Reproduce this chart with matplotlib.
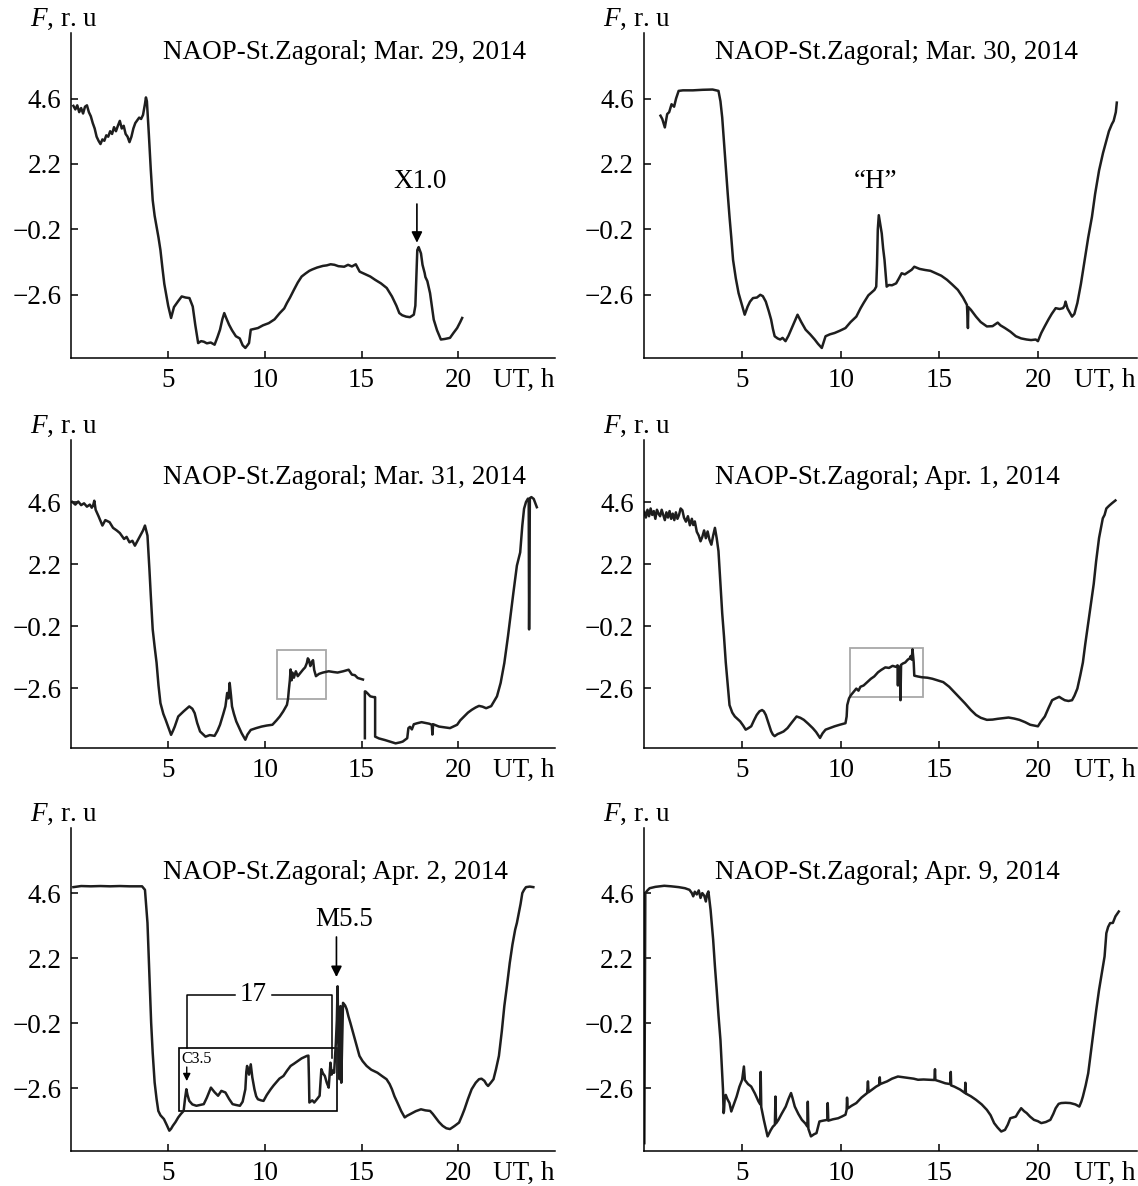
import numpy as np
import matplotlib
matplotlib.use("Agg")
import matplotlib.pyplot as plt
from matplotlib.patches import Rectangle

plt.rcParams['font.family'] = ['Liberation Serif', 'DejaVu Serif']
plt.rcParams['mathtext.fontset'] = 'custom'
plt.rcParams['mathtext.it'] = 'Liberation Serif:italic'
plt.rcParams['mathtext.rm'] = 'Liberation Serif'

# ---------------- data ----------------
ytick_vals = [4.6, 2.2, -0.2, -2.6]
ytick_labels = ['4.6', '2.2', '\u22120.2', '\u22122.6']
xtick_vals = [5, 10, 15, 20]

titles = ['NAOP-St.Zagoral; Mar. 29, 2014', 'NAOP-St.Zagoral; Mar. 30, 2014',
          'NAOP-St.Zagoral; Mar. 31, 2014', 'NAOP-St.Zagoral; Apr. 1, 2014',
          'NAOP-St.Zagoral; Apr. 2, 2014', 'NAOP-St.Zagoral; Apr. 9, 2014']

# Mar. 29
mar29_t = [0.1, 0.2, 0.3, 0.4, 0.5, 0.6, 0.7, 0.8, 0.9, 1.0, 1.1, 1.2, 1.3, 1.4, 1.5, 1.6, 1.7, 1.8,
           1.9, 2.0, 2.1, 2.2, 2.3, 2.4, 2.5, 2.6, 2.7, 2.8, 2.9, 3.0, 3.1, 3.2, 3.3, 3.4, 3.5, 3.6,
           3.7, 3.8, 3.85, 3.9, 4.0, 4.1, 4.2, 4.3, 4.4, 4.5, 4.6, 4.7, 4.8, 4.9, 5.0, 5.15, 5.3,
           5.5, 5.7, 5.9, 6.1, 6.27, 6.4, 6.55, 6.7, 6.84, 7.0, 7.2, 7.4, 7.55, 7.68, 7.8, 7.9, 8.0,
           8.15, 8.3, 8.5, 8.7, 8.85, 8.99, 9.1, 9.18, 9.27, 9.45, 9.64, 9.9, 10.2, 10.5, 10.77,
           11.0, 11.14, 11.3, 11.5, 11.7, 11.9, 12.1, 12.3, 12.45, 12.7, 13.0, 13.2, 13.4, 13.6,
           13.8, 14.1, 14.3, 14.5, 14.7, 14.9, 15.2, 15.45, 15.7, 16.0, 16.3, 16.57, 16.8, 16.95,
           17.1, 17.3, 17.5, 17.7, 17.78, 17.83, 17.88, 17.95, 18.07, 18.15, 18.26, 18.3, 18.4,
           18.54, 18.65, 18.73, 18.9, 19.1, 19.3, 19.57, 19.75, 19.94, 20.1, 20.2]
mar29_f = [4.33, 4.2, 4.35, 4.1, 4.25, 4.05, 4.3, 4.35, 4.1, 3.95, 3.7, 3.5, 3.2, 3.05, 2.93, 3.1,
           3.05, 3.25, 3.2, 3.4, 3.3, 3.55, 3.4, 3.6, 3.78, 3.5, 3.6, 3.3, 3.2, 3.0, 3.2, 3.5, 3.7,
           3.8, 3.9, 3.85, 4.0, 4.4, 4.64, 4.5, 3.3, 2.0, 0.87, 0.3, -0.1, -0.5, -0.96, -1.6, -2.2,
           -2.6, -3.0, -3.45, -3.05, -2.85, -2.66, -2.7, -2.72, -3.03, -3.7, -4.37, -4.3, -4.32,
           -4.38, -4.35, -4.43, -4.15, -3.88, -3.5, -3.27, -3.45, -3.7, -3.9, -4.12, -4.2, -4.45,
           -4.55, -4.45, -4.37, -3.88, -3.85, -3.82, -3.72, -3.64, -3.5, -3.27, -3.1, -2.9, -2.7,
           -2.42, -2.15, -1.93, -1.82, -1.72, -1.67, -1.6, -1.54, -1.52, -1.48, -1.5, -1.55, -1.57,
           -1.5, -1.56, -1.48, -1.75, -1.85, -1.93, -2.05, -2.18, -2.35, -2.66, -3.0, -3.27, -3.35,
           -3.4, -3.42, -3.33, -3.0, -2.0, -0.96, -0.85, -1.08, -1.5, -1.8, -1.95, -2.1, -2.54,
           -3.1, -3.51, -3.9, -4.24, -4.22, -4.18, -4.0, -3.82, -3.6, -3.45]

# Mar. 30
mar30_t = [0.86, 0.95, 1.08, 1.2, 1.3, 1.42, 1.55, 1.65, 1.78, 2.0, 2.5, 3.0, 3.5, 3.8, 3.9, 3.99,
           4.08, 4.17, 4.27, 4.36, 4.45, 4.54, 4.68, 4.82, 5.0, 5.13, 5.28, 5.4, 5.55, 5.75, 5.92,
           6.05, 6.2, 6.35, 6.47, 6.56, 6.65, 6.8, 6.93, 7.05, 7.2, 7.35, 7.48, 7.65, 7.81, 8.0,
           8.22, 8.45, 8.68, 8.85, 9.04, 9.15, 9.23, 9.45, 9.69, 9.95, 10.24, 10.5, 10.79, 11.0,
           11.16, 11.4, 11.71, 11.8, 11.84, 11.88, 11.93, 11.98, 12.08, 12.15, 12.22, 12.3, 12.33,
           12.44, 12.6, 12.81, 12.95, 13.09, 13.25, 13.46, 13.6, 13.73, 14.0, 14.28, 14.55, 14.83,
           15.1, 15.39, 15.65, 15.94, 16.2, 16.4, 16.43, 16.45, 16.47, 16.6, 16.86, 17.1, 17.41,
           17.7, 17.96, 18.1, 18.33, 18.6, 18.88, 19.15, 19.43, 19.65, 19.89, 20.0, 20.17, 20.35,
           20.53, 20.7, 20.9, 21.1, 21.27, 21.35, 21.4, 21.5, 21.73, 21.85, 22.0, 22.18, 22.37,
           22.55, 22.74, 22.9, 23.1, 23.3, 23.47, 23.6, 23.75, 23.84, 23.95, 24.0]
mar30_f = [3.97, 3.85, 3.54, 4.03, 4.1, 4.39, 4.3, 4.6, 4.88, 4.9, 4.9, 4.92, 4.93, 4.88, 4.5, 3.9,
           3.0, 2.08, 1.1, 0.26, -0.5, -1.32, -2.0, -2.54, -3.0, -3.33, -3.03, -2.85, -2.72, -2.7,
           -2.6, -2.65, -2.85, -3.2, -3.51, -3.85, -4.12, -4.2, -4.24, -4.18, -4.3, -4.1, -3.88,
           -3.6, -3.33, -3.6, -3.88, -4.05, -4.24, -4.4, -4.55, -4.3, -4.12, -4.05, -4.0, -3.92,
           -3.82, -3.6, -3.4, -3.1, -2.9, -2.62, -2.42, -2.3, -1.5, -0.2, 0.32, 0.1, -0.35, -0.9,
           -1.32, -2.05, -2.3, -2.24, -2.25, -2.18, -2.0, -1.81, -1.85, -1.75, -1.68, -1.57, -1.65,
           -1.69, -1.72, -1.81, -1.9, -2.05, -2.22, -2.42, -2.7, -2.97, -3.4, -3.82, -3.05, -3.15,
           -3.4, -3.6, -3.76, -3.75, -3.62, -3.72, -3.82, -3.95, -4.12, -4.2, -4.24, -4.26, -4.24,
           -4.3, -4.0, -3.75, -3.51, -3.3, -3.09, -3.12, -3.09, -3.0, -2.85, -3.1, -3.4, -3.3, -2.9,
           -2.2, -1.32, -0.5, 0.26, 1.1, 1.96, 2.6, 3.05, 3.4, 3.66, 3.78, 4.1, 4.45]

# Mar. 31 (nan = gap in the record)
mar31_t = [0.05, 0.2, 0.35, 0.5, 0.65, 0.8, 0.95, 1.05, 1.12, 1.18, 1.25, 1.4, 1.6, 1.75, 1.97,
           2.15, 2.34, 2.5, 2.72, 2.85, 3.0, 3.15, 3.28, 3.45, 3.56, 3.7, 3.8, 3.93, 4.03, 4.1, 4.2,
           4.3, 4.4, 4.5, 4.6, 4.75, 4.87, 5.0, 5.15, 5.25, 5.34, 5.52, 5.8, 6.09, 6.25, 6.37, 6.5,
           6.65, 6.93, 7.15, 7.4, 7.55, 7.68, 7.85, 7.96, 8.05, 8.12, 8.18, 8.25, 8.3, 8.4, 8.52,
           8.65, 8.8, 8.99, 9.1, 9.27, 9.55, 9.83, 10.1, 10.39, 10.6, 10.77, 10.95, 11.14, 11.2,
           11.24, 11.29, 11.33, 11.38, 11.42, 11.5, 11.6, 11.7, 11.85, 11.98, 12.08, 12.17, 12.22,
           12.27, 12.35, 12.42, 12.49, 12.55, 12.64, 12.8, 13.0, 13.3, 13.55, 13.76, 14.05, 14.33,
           14.5, 14.65, 14.8, 15.07, 15.12, 15.17, 15.17, 15.2, 15.3, 15.45, 15.62, 15.7, 15.7,
           15.9, 16.2, 16.5, 16.76, 17.0, 17.13, 17.36, 17.42, 17.5, 17.6, 17.7, 17.88, 18.1, 18.3,
           18.5, 18.63, 18.66, 18.7, 19.0, 19.3, 19.57, 19.94, 20.1, 20.3, 20.5, 20.7, 20.9, 21.07,
           21.25, 21.44, 21.7, 22.0, 22.19, 22.38, 22.57, 22.7, 22.85, 23.03, 23.2, 23.31, 23.4,
           23.5, 23.6, 23.64, 23.66, 23.7, 23.78, 23.9, 24.06]
mar31_f = [4.6, 4.5, 4.62, 4.48, 4.55, 4.42, 4.5, 4.38, 4.47, 4.65, 4.3, 4.05, 3.69, 3.9, 3.82,
           3.6, 3.5, 3.4, 3.17, 3.25, 3.04, 3.1, 2.91, 3.15, 3.3, 3.5, 3.69, 3.3, 2.0, 1.0, -0.33,
           -1.0, -1.62, -2.5, -3.18, -3.6, -3.83, -4.1, -4.41, -4.25, -4.09, -3.7, -3.5, -3.31,
           -3.4, -3.57, -3.95, -4.28, -4.48, -4.42, -4.45, -4.25, -4.02, -3.6, -3.31, -2.79, -3.0,
           -2.4, -2.9, -3.31, -3.6, -3.89, -4.1, -4.35, -4.6, -4.4, -4.22, -4.15, -4.09, -4.05,
           -4.02, -3.85, -3.7, -3.5, -3.25, -3.0, -2.66, -2.3, -1.88, -2.3, -2.0, -2.2, -1.95,
           -2.14, -2.0, -1.88, -1.8, -1.63, -1.45, -1.5, -1.75, -1.6, -1.52, -1.9, -2.14, -2.05,
           -2.0, -1.95, -1.98, -2.0, -1.95, -1.89, -2.08, -2.1, -2.21, -2.27, np.nan, -4.54, -2.73,
           -2.73, -2.8, -2.92, -2.95, -2.95, -4.48, -4.55, -4.61, -4.68, -4.74, -4.7, -4.67, -4.54,
           -4.15, -4.1, -4.2, -4.0, -3.96, -3.92, -3.95, -3.98, -4.02, -4.4, -4.0, -4.09, -4.12,
           -4.15, -4.02, -3.85, -3.7, -3.55, -3.44, -3.35, -3.29, -3.32, -3.38, -3.3, -2.92, -2.4,
           -1.63, -0.59, 0.2, 1.1, 2.14, 2.65, 3.69, 4.34, 4.6, 4.73, 4.7, -0.33, 4.75, 4.79, 4.72,
           4.4]

# Apr. 1
apr1_t = [0.04, 0.12, 0.2, 0.28, 0.36, 0.44, 0.52, 0.6, 0.68, 0.76, 0.84, 0.92, 1.0, 1.08, 1.16,
          1.24, 1.32, 1.4, 1.48, 1.56, 1.64, 1.72, 1.8, 1.88, 1.97, 2.05, 2.15, 2.25, 2.35, 2.45,
          2.52, 2.6, 2.7, 2.8, 2.89, 2.98, 3.07, 3.16, 3.25, 3.34, 3.44, 3.53, 3.62, 3.71, 3.8, 3.9,
          3.99, 4.08, 4.17, 4.27, 4.36, 4.5, 4.63, 4.77, 4.9, 5.05, 5.18, 5.32, 5.46, 5.6, 5.74,
          5.88, 6.01, 6.1, 6.2, 6.33, 6.47, 6.56, 6.65, 6.8, 6.93, 7.1, 7.3, 7.5, 7.76, 7.95, 8.13,
          8.35, 8.58, 8.75, 8.95, 9.08, 9.23, 9.45, 9.69, 9.95, 10.24, 10.3, 10.33, 10.42, 10.51,
          10.65, 10.79, 10.9, 11.0, 11.16, 11.3, 11.53, 11.7, 11.89, 12.05, 12.26, 12.45, 12.63,
          12.8, 12.88, 12.9, 12.92, 13.0, 13.03, 13.06, 13.15, 13.27, 13.4, 13.5, 13.55, 13.6,
          13.64, 13.7, 13.73, 13.9, 14.1, 14.4, 14.65, 14.9, 15.2, 15.5, 15.75, 16.0, 16.3, 16.6,
          16.86, 17.1, 17.41, 17.7, 17.96, 18.2, 18.51, 18.8, 19.06, 19.35, 19.61, 19.8, 20.0,
          20.15, 20.35, 20.55, 20.72, 20.9, 21.08, 21.2, 21.36, 21.55, 21.73, 21.85, 22.0, 22.15,
          22.28, 22.4, 22.55, 22.7, 22.83, 22.95, 23.1, 23.2, 23.29, 23.38, 23.47, 23.6, 23.75,
          23.93]
apr1_f = [4.22, 4.0, 4.3, 4.05, 4.35, 4.1, 4.25, 3.95, 4.3, 4.15, 4.05, 4.3, 4.1, 3.9, 4.2, 4.0,
          4.25, 3.95, 4.15, 3.9, 4.2, 3.95, 4.1, 4.35, 4.28, 4.0, 3.84, 4.05, 3.7, 3.95, 3.71,
          3.85, 3.45, 3.3, 3.08, 3.25, 3.5, 3.2, 3.46, 3.15, 2.95, 3.3, 3.6, 3.2, 2.7, 1.43, 0.29,
          -0.6, -1.61, -2.5, -3.26, -3.55, -3.7, -3.8, -3.89, -4.05, -4.21, -4.15, -4.08, -3.85,
          -3.64, -3.5, -3.45, -3.5, -3.64, -3.95, -4.27, -4.4, -4.46, -4.38, -4.34, -4.28, -4.15,
          -3.95, -3.7, -3.75, -3.83, -3.98, -4.15, -4.3, -4.53, -4.35, -4.21, -4.15, -4.08, -4.02,
          -3.96, -3.7, -3.26, -3.0, -2.88, -2.75, -2.62, -2.7, -2.55, -2.5, -2.4, -2.24, -2.15,
          -1.99, -1.9, -1.8, -1.82, -1.74, -1.78, -1.72, -2.5, -1.75, -1.8, -3.07, -1.7, -1.65,
          -1.61, -1.5, -1.45, -1.36, -1.5, -1.1, -1.6, -2.12, -2.15, -2.18, -2.2, -2.24, -2.3,
          -2.37, -2.55, -2.75, -2.95, -3.19, -3.45, -3.64, -3.75, -3.83, -3.82, -3.79, -3.77,
          -3.74, -3.78, -3.83, -3.92, -4.02, -4.05, -4.08, -3.9, -3.7, -3.35, -3.07, -3.0, -2.94,
          -3.0, -3.07, -3.1, -3.07, -2.9, -2.62, -2.1, -1.61, -0.9, -0.09, 0.7, 1.43, 2.3, 3.21,
          3.6, 3.97, 4.1, 4.35, 4.45, 4.55, 4.66]

# Apr. 2
apr2_t = [0.1, 0.5, 1.0, 1.5, 2.0, 2.5, 3.0, 3.5, 3.65, 3.8, 3.93, 4.02, 4.12, 4.2, 4.3, 4.4, 4.49,
          4.6, 4.78, 4.92, 5.06, 5.15, 5.24, 5.38, 5.52, 5.66, 5.8, 5.87, 5.94, 6.0, 6.09, 6.25,
          6.46, 6.65, 6.84, 7.0, 7.21, 7.4, 7.58, 7.75, 7.96, 8.15, 8.33, 8.5, 8.71, 8.85, 8.99,
          9.04, 9.08, 9.18, 9.27, 9.35, 9.46, 9.55, 9.64, 9.8, 9.93, 10.1, 10.3, 10.45, 10.58,
          10.75, 10.96, 11.15, 11.33, 11.5, 11.7, 11.9, 12.17, 12.25, 12.28, 12.3, 12.45, 12.55,
          12.7, 12.83, 12.88, 12.92, 13.0, 13.1, 13.2, 13.3, 13.39, 13.45, 13.52, 13.58, 13.67,
          13.72, 13.76, 13.8, 13.86, 13.91, 13.95, 14.04, 14.15, 14.23, 14.32, 14.42, 14.52, 14.61,
          14.75, 14.89, 15.05, 15.26, 15.5, 15.82, 16.05, 16.29, 16.45, 16.57, 16.7, 16.85, 17.05,
          17.23, 17.35, 17.51, 17.8, 18.07, 18.3, 18.54, 18.68, 18.82, 19.0, 19.19, 19.38, 19.57,
          19.8, 20.04, 20.2, 20.32, 20.5, 20.69, 20.9, 21.07, 21.2, 21.35, 21.45, 21.54, 21.68,
          21.82, 21.95, 22.1, 22.25, 22.38, 22.52, 22.66, 22.8, 22.94, 23.03, 23.13, 23.22, 23.31,
          23.4, 23.5, 23.7, 23.88]
apr2_f = [4.82, 4.86, 4.85, 4.86, 4.85, 4.86, 4.85, 4.85, 4.85, 4.72, 3.5, 1.7, -0.19, -1.3,
          -2.39, -3.0, -3.44, -3.6, -3.74, -3.95, -4.17, -4.1, -3.99, -3.85, -3.68, -3.55, -3.44,
          -3.0, -2.64, -2.85, -3.07, -3.2, -3.25, -3.22, -3.19, -2.95, -2.58, -2.75, -2.88, -2.7,
          -2.76, -3.0, -3.19, -3.22, -3.25, -3.1, -2.64, -2.0, -1.78, -2.1, -1.72, -2.2, -2.64,
          -2.9, -3.01, -3.05, -3.07, -2.85, -2.64, -2.5, -2.39, -2.25, -2.15, -1.95, -1.78, -1.7,
          -1.6, -1.5, -1.41, -1.4, -2.3, -3.13, -3.05, -3.13, -3.0, -2.88, -2.3, -1.9, -2.05,
          -2.15, -2.4, -2.58, -1.66, -2.1, -1.95, -2.03, -0.92, -0.1, 1.16, -1.0, -2.27, 0.43,
          -2.4, 0.55, 0.45, 0.31, 0.05, -0.19, -0.45, -0.68, -1.05, -1.41, -1.6, -1.78, -1.92,
          -2.03, -2.15, -2.27, -2.45, -2.64, -2.9, -3.13, -3.45, -3.68, -3.62, -3.56, -3.45, -3.38,
          -3.42, -3.44, -3.55, -3.68, -3.85, -3.99, -4.08, -4.11, -4.0, -3.87, -3.6, -3.38, -3.0,
          -2.64, -2.4, -2.27, -2.25, -2.33, -2.45, -2.52, -2.4, -2.27, -1.9, -1.41, -0.5, 0.43,
          1.2, 2.02, 2.7, 3.25, 3.5, 3.86, 4.2, 4.6, 4.72, 4.82, 4.84, 4.82]

# Apr. 9
apr9_t = [0.04, 0.09, 0.2, 0.31, 0.6, 1.05, 1.4, 1.78, 2.1, 2.33, 2.45, 2.52, 2.6, 2.7, 2.8, 2.89,
          2.98, 3.08, 3.16, 3.22, 3.29, 3.35, 3.4, 3.53, 3.62, 3.71, 3.8, 3.9, 3.97, 4.03, 4.06,
          4.08, 4.12, 4.17, 4.25, 4.36, 4.45, 4.58, 4.72, 4.86, 5.0, 5.09, 5.14, 5.3, 5.46, 5.65,
          5.83, 5.92, 5.94, 5.97, 6.1, 6.29, 6.45, 6.56, 6.66, 6.69, 6.72, 6.84, 7.0, 7.21, 7.35,
          7.48, 7.55, 7.67, 7.85, 8.03, 8.2, 8.31, 8.33, 8.36, 8.49, 8.65, 8.77, 8.92, 9.1, 9.32,
          9.34, 9.37, 9.6, 9.87, 10.05, 10.24, 10.3, 10.32, 10.35, 10.55, 10.79, 11.05, 11.34,
          11.38, 11.41, 11.6, 11.8, 11.95, 11.98, 12.0, 12.35, 12.6, 12.9, 13.2, 13.46, 13.7,
          13.92, 14.2, 14.47, 14.75, 14.78, 14.8, 15.02, 15.3, 15.55, 15.58, 15.6, 15.75, 16.05,
          16.3, 16.32, 16.35, 16.6, 16.86, 17.15, 17.41, 17.6, 17.78, 17.95, 18.14, 18.33, 18.47,
          18.6, 18.75, 18.88, 19.0, 19.15, 19.3, 19.43, 19.6, 19.8, 20.0, 20.17, 20.4, 20.63,
          20.78, 20.9, 21.05, 21.18, 21.4, 21.64, 21.9, 22.1, 22.2, 22.28, 22.42, 22.55, 22.7,
          22.83, 22.96, 23.1, 23.25, 23.38, 23.47, 23.56, 23.66, 23.8, 23.93, 24.1]
apr9_f = [-4.63, 4.6, 4.7, 4.78, 4.83, 4.87, 4.85, 4.82, 4.78, 4.72, 4.6, 4.48, 4.65, 4.55, 4.7,
          4.42, 4.6, 4.5, 4.29, 4.55, 4.66, 4.3, 3.98, 2.88, 1.9, 1.03, 0.1, -0.82, -1.8, -2.66,
          -3.52, -3.45, -2.9, -2.85, -3.0, -3.15, -3.46, -3.2, -2.91, -2.55, -2.29, -1.8, -2.3,
          -2.45, -2.54, -2.8, -3.09, -3.2, -2.0, -3.3, -3.77, -4.38, -4.15, -4.02, -3.95, -2.91,
          -3.9, -3.77, -3.55, -3.28, -3.0, -2.78, -2.95, -3.28, -3.55, -3.77, -3.9, -4.02, -3.1,
          -4.1, -4.38, -4.3, -4.26, -3.83, -3.8, -3.77, -3.15, -3.8, -3.75, -3.71, -3.65, -3.58,
          -3.4, -2.95, -3.35, -3.25, -3.15, -2.95, -2.78, -2.35, -2.75, -2.65, -2.54, -2.48, -2.2,
          -2.45, -2.35, -2.25, -2.17, -2.2, -2.23, -2.25, -2.29, -2.28, -2.29, -2.3, -1.9, -2.3,
          -2.35, -2.42, -2.45, -2.0, -2.5, -2.54, -2.65, -2.78, -2.4, -2.8, -2.9, -3.03, -3.2,
          -3.4, -3.6, -3.89, -4.05, -4.2, -4.14, -3.95, -3.71, -3.68, -3.65, -3.5, -3.34, -3.45,
          -3.52, -3.65, -3.77, -3.82, -3.89, -3.85, -3.77, -3.55, -3.34, -3.18, -3.15, -3.14,
          -3.15, -3.2, -3.28, -3.1, -2.91, -2.5, -2.05, -1.2, -0.45, 0.3, 1.03, 1.7, 2.26, 3.12,
          3.35, 3.49, 3.5, 3.74, 3.92]

series = [(mar29_t, mar29_f), (mar30_t, mar30_f), (mar31_t, mar31_f),
          (apr1_t, apr1_f), (apr2_t, apr2_f), (apr9_t, apr9_f)]

# ---------------- layout ----------------
fig = plt.figure(figsize=(11.38, 11.86), dpi=100)

# axes rectangles in figure fractions (left col / right col, three rows)
col_left = [(0.0628, 0.4249), (0.5655, 0.4332)]
row_bottom = [(0.6981, 0.2740), (0.3693, 0.2597), (0.0295, 0.2723)]
# title position: x where text starts, baseline y (data units)
title_x = [4.73, 3.62]
title_y = [6.06, 5.3, 5.12]

line_color = '#1e1e1e'
fs = 19.5

axes = []
for i in range(6):
    row, col = i // 2, i % 2
    x0, w = col_left[col]
    y0, h = row_bottom[row]
    ax = fig.add_axes([x0, y0, w, h])
    axes.append(ax)

    t, f = series[i]
    ax.plot(t, f, color=line_color, lw=1.8, solid_joinstyle='round')

    ax.set_xlim(0, 25)
    ax.set_ylim(-4.92, 7.0)
    ax.set_xticks(xtick_vals)
    ax.set_yticks(ytick_vals)
    ax.set_yticklabels(ytick_labels)
    ax.tick_params(direction='in', length=5, width=1.1, labelsize=fs)
    ax.tick_params(axis='x', pad=7)
    ax.tick_params(axis='y', pad=7)
    for s in ['top', 'right']:
        ax.spines[s].set_visible(False)
    for s in ['left', 'bottom']:
        ax.spines[s].set_linewidth(1.1)

    # axis captions
    ax.annotate('$F$, r. u', xy=(0, 1), xycoords='axes fraction', xytext=(-41, 7),
                textcoords='offset pixels', ha='left', va='baseline', fontsize=fs)
    ax.annotate('UT, h', xy=(1, 0), xycoords='axes fraction', xytext=(-1, -10),
                textcoords='offset pixels', ha='right', va='top', fontsize=fs)

    ax.text(title_x[col], title_y[row], titles[i], ha='left', va='baseline', fontsize=fs)

# ---------------- annotations ----------------
arrow = dict(arrowstyle='-|>', color='k', lw=1.2, mutation_scale=16, shrinkA=0, shrinkB=0)

# X1.0 flare on Mar. 29
axes[0].text(18.03, 1.32, 'X1.0', ha='center', va='baseline', fontsize=fs)
axes[0].annotate('', xy=(17.86, -0.69), xytext=(17.86, 0.73), arrowprops=arrow)

# "H" on Mar. 30
axes[1].text(11.78, 1.32, '\u201cH\u201d', ha='center', va='baseline', fontsize=fs)

# gray frames on Mar. 31 and Apr. 1
axes[2].add_patch(Rectangle((10.62, -3.01), 2.54, 1.9, fill=False, ec='#a8a8a8', lw=1.3))
axes[3].add_patch(Rectangle((10.46, -2.94), 3.73, 1.9, fill=False, ec='#a8a8a8', lw=1.3))

# Apr. 2: M5.5, C3.5, frame and the 17-min bracket
ax = axes[4]
ax.text(14.1, 3.38, 'M5.5', ha='center', va='baseline', fontsize=fs)
ax.annotate('', xy=(13.7, 1.5), xytext=(13.7, 2.98), arrowprops=arrow)
ax.add_patch(Rectangle((5.56, -3.44), 8.16, 2.32, fill=False, ec='k', lw=1.2))
ax.text(5.7, -1.67, 'C3.5', ha='left', va='baseline', fontsize=11.5)
ax.annotate('', xy=(5.96, -2.34), xytext=(5.96, -1.82),
            arrowprops=dict(arrowstyle='-|>', color='k', lw=1.0, mutation_scale=11,
                            shrinkA=0, shrinkB=0))
bracket_y = 0.84
ax.plot([5.96, 5.96, 8.46], [-1.12, bracket_y, bracket_y], color='k', lw=1.1)
ax.plot([10.36, 13.46, 13.46], [bracket_y, bracket_y, -1.5], color='k', lw=1.1)
ax.text(9.41, bracket_y, '17', ha='center', va='center', fontsize=fs)

fig.savefig('out.png', dpi=100)
